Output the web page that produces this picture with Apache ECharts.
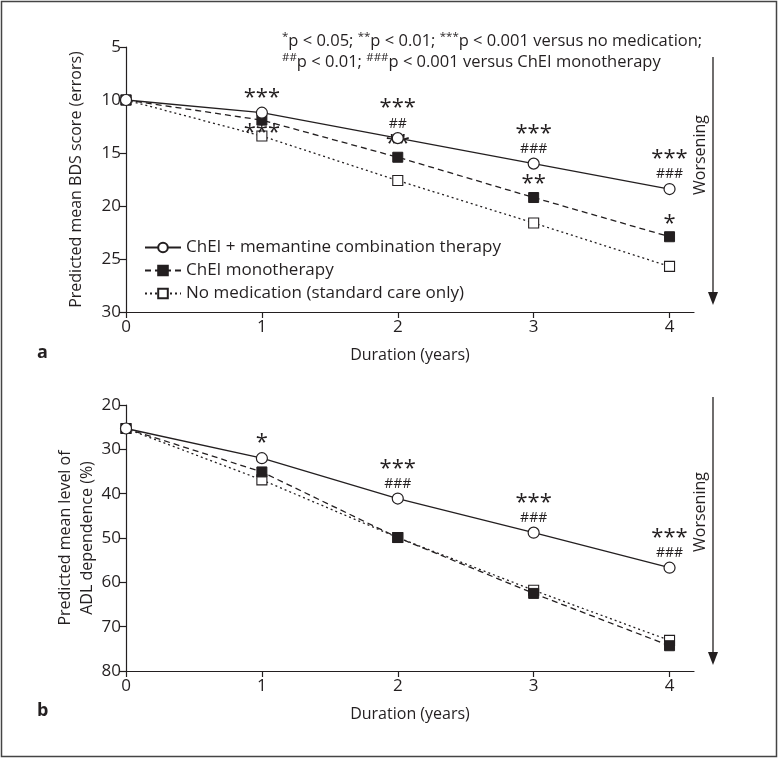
<!DOCTYPE html>
<html>
<head>
<meta charset="utf-8">
<style>
  html, body { margin: 0; padding: 0; background: #fff; }
  #chart { width: 778px; height: 758px; }
</style>
<script src="https://cdn.jsdelivr.net/npm/echarts@6/dist/echarts.min.js"></script>
</head>
<body>
<div id="chart"></div>
<script>
"use strict";

// years on the x axis
var years = [0, 1, 2, 3, 4];
var seriesNames = ['ChEI + memantine combination therapy', 'ChEI monotherapy', 'No medication (standard care only)'];

// panel a: predicted mean BDS score (errors)
var bdsCombo = [10, 11.2, 13.6, 16.0, 18.4];
var bdsMono = [10, 11.9, 15.4, 19.2, 22.9];
var bdsNone = [10, 13.4, 17.6, 21.6, 25.7];
var bdsComboSig = [['', ''], ['***', ''], ['***', '##'], ['***', '###'], ['***', '###']];
var bdsMonoSig = ['', '***', '**', '**', '*'];

// panel b: predicted mean level of ADL dependence (%)
var adlCombo = [25.3, 32.0, 41.1, 48.8, 56.7];
var adlMono = [25.3, 35.1, 49.9, 62.5, 74.3];
var adlNone = [25.3, 36.9, 49.9, 61.8, 73.1];
var adlComboSig = [['', ''], ['*', ''], ['***', '###'], ['***', '###'], ['***', '###']];

var ink = '#231f20';
var font = 'Open Sans';

var dom = document.getElementById('chart');
var myChart = echarts.init(dom);

function pairs(vals) {
    return vals.map(function (v, i) { return [years[i], v]; });
}

function comboData(vals, sig) {
    return vals.map(function (v, i) {
        var s = sig[i];
        var txt = '';
        if (s[0] && s[1]) txt = '{s|' + s[0] + '}\n{h|' + s[1] + '}';
        else if (s[0]) txt = '{s|' + s[0] + '}';
        return {
            value: [years[i], v],
            label: { show: txt !== '', formatter: txt, position: 'top', distance: 1 }
        };
    });
}

function monoData(vals, sig) {
    return vals.map(function (v, i) {
        var s = sig ? sig[i] : '';
        return {
            value: [years[i], v],
            label: {
                show: s !== '',
                formatter: '{s|' + s + '}',
                position: i === 1 ? 'bottom' : 'top',
                distance: i === 1 ? -1 : 0
            }
        };
    });
}

var sigRich = {
    s: { fontFamily: font, fontSize: 22, color: ink, lineHeight: 16, height: 16 },
    h: { fontFamily: font, fontSize: 14, color: ink, lineHeight: 15 }
};

function lineSeries(name, idx, data, kind) {
    var s = {
        name: name,
        type: 'line',
        xAxisIndex: idx,
        yAxisIndex: idx,
        data: data,
        clip: false,
        animation: false,
        label: { rich: sigRich },
        emphasis: { disabled: true }
    };
    if (kind === 'combo') {
        s.symbol = 'circle';
        s.symbolSize = 11;
        s.itemStyle = { color: '#fff', borderColor: ink, borderWidth: 1.2 };
        s.lineStyle = { color: ink, width: 1.3, type: 'solid' };
        s.z = 4;
    } else if (kind === 'mono') {
        s.symbol = 'rect';
        s.symbolSize = 10;
        s.itemStyle = { color: ink, borderColor: ink, borderWidth: 1 };
        s.lineStyle = { color: ink, width: 1.3, type: [6, 4] };
        s.z = 3;
    } else {
        s.symbol = 'rect';
        s.symbolSize = 10;
        s.itemStyle = { color: '#fff', borderColor: ink, borderWidth: 1.1 };
        s.lineStyle = { color: ink, width: 1.3, type: [2, 3] };
        s.z = 2;
    }
    return s;
}

function xAx(idx) {
    return {
        type: 'value',
        gridIndex: idx,
        min: 0,
        max: 4.18,
        interval: 1,
        name: 'Duration (years)',
        nameLocation: 'middle',
        nameGap: 35,
        nameMoveOverlap: false,
        nameTextStyle: { fontFamily: font, fontSize: 16, color: ink },
        axisLine: { onZero: false, lineStyle: { color: ink, width: 1.2 } },
        axisTick: { length: 6, customValues: years, lineStyle: { color: ink, width: 1.2 } },
        axisLabel: { customValues: years, fontFamily: font, fontSize: 17, color: ink, margin: 7 },
        splitLine: { show: false }
    };
}

function yAx(idx, min, max, step, name, gap) {
    return {
        type: 'value',
        gridIndex: idx,
        inverse: true,
        min: min,
        max: max,
        interval: step,
        name: name,
        nameLocation: 'middle',
        nameGap: gap,
        nameMoveOverlap: false,
        nameTextStyle: { fontFamily: font, fontSize: 16, color: ink, lineHeight: 22 },
        axisLine: { show: true, lineStyle: { color: ink, width: 1.2 } },
        axisTick: { show: true, length: 6, lineStyle: { color: ink, width: 1.2 } },
        axisLabel: { fontFamily: font, fontSize: 17, color: ink, margin: 5 },
        splitLine: { show: false }
    };
}

var option = {
    backgroundColor: '#fff',
    animation: false,
    grid: [
        { left: 126, right: 84, top: 47, height: 265 },
        { left: 126, right: 84, top: 405, height: 266 }
    ],
    xAxis: [xAx(0), xAx(1)],
    yAxis: [
        yAx(0, 5, 30, 5, 'Predicted mean BDS score (errors)', 39),
        yAx(1, 20, 80, 10, 'Predicted mean level of\nADL dependence (%)', 28)
    ],
    legend: {
        data: seriesNames,
        orient: 'vertical',
        left: 139,
        top: 234,
        itemWidth: 36,
        itemHeight: 12,
        itemGap: 6,
        selectedMode: false,
        textStyle: { fontFamily: font, fontSize: 17, color: ink }
    },
    series: [
        lineSeries(seriesNames[2], 0, pairs(bdsNone), 'none'),
        lineSeries(seriesNames[1], 0, monoData(bdsMono, bdsMonoSig), 'mono'),
        lineSeries(seriesNames[0], 0, comboData(bdsCombo, bdsComboSig), 'combo'),
        lineSeries(seriesNames[2], 1, pairs(adlNone), 'none'),
        lineSeries(seriesNames[1], 1, pairs(adlMono), 'mono'),
        lineSeries(seriesNames[0], 1, comboData(adlCombo, adlComboSig), 'combo')
    ],
    graphic: [
        {
            type: 'rect',
            shape: { x: 1.5, y: 1.5, width: 775, height: 755 },
            style: { fill: 'none', stroke: '#444', lineWidth: 1.5 },
            silent: true
        },
        {
            type: 'text', left: 282, top: 31, silent: true,
            style: {
                text: '{sp|*}p < 0.05; {sp|**}p < 0.01; {sp|***}p < 0.001 versus no medication;\n{sp|##}p < 0.01; {sp|###}p < 0.001 versus ChEI monotherapy',
                fontFamily: font, fontSize: 16.5, fill: ink, lineHeight: 21,
                rich: { sp: { fontFamily: font, fontSize: 11.5, fill: ink, verticalAlign: 'top', lineHeight: 21 } }
            }
        },
        { type: 'text', left: 37, top: 344, silent: true, style: { text: 'a', fontFamily: font, fontWeight: 'bold', fontSize: 18, fill: ink } },
        { type: 'text', left: 37, top: 702, silent: true, style: { text: 'b', fontFamily: font, fontWeight: 'bold', fontSize: 18, fill: ink } },
        // "Worsening" arrows
        { type: 'line', silent: true, shape: { x1: 713, y1: 57, x2: 713, y2: 296 }, style: { stroke: ink, lineWidth: 1.3 } },
        { type: 'polygon', silent: true, shape: { points: [[708, 292], [718, 292], [713, 305]] }, style: { fill: ink } },
        { type: 'text', silent: true, x: 700, y: 155, rotation: Math.PI / 2, style: { text: 'Worsening', fontFamily: font, fontSize: 16, fill: ink, align: 'center', verticalAlign: 'middle' } },
        { type: 'line', silent: true, shape: { x1: 713, y1: 397, x2: 713, y2: 656 }, style: { stroke: ink, lineWidth: 1.3 } },
        { type: 'polygon', silent: true, shape: { points: [[708, 652], [718, 652], [713, 665]] }, style: { fill: ink } },
        { type: 'text', silent: true, x: 700, y: 512, rotation: Math.PI / 2, style: { text: 'Worsening', fontFamily: font, fontSize: 16, fill: ink, align: 'center', verticalAlign: 'middle' } }
    ]
};

if (option && typeof option === 'object') {
    myChart.setOption(option);
}
</script>
</body>
</html>
